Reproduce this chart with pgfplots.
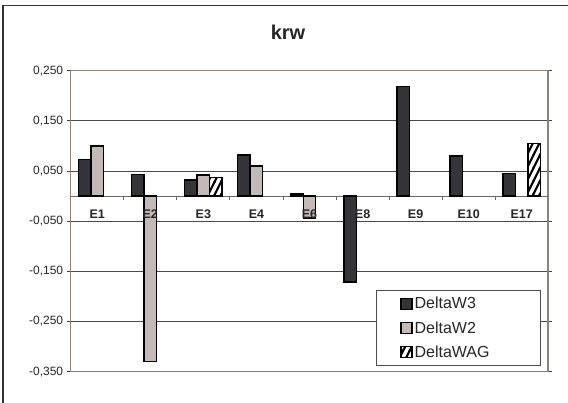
\documentclass[border=0pt]{standalone}
\usepackage{pgfplots}
\pgfplotsset{compat=1.18}
\usepackage{fontspec}
\setmainfont{Liberation Sans}
\usetikzlibrary{patterns}

\definecolor{darkbar}{HTML}{353438}
\definecolor{lightbar}{HTML}{C3B9B6}
\definecolor{framebrown}{HTML}{8B807C}
\definecolor{gridgray}{HTML}{4A4A4A}

% steep diagonal stripes for the WAG bars
\pgfdeclarepatternformonly{wagstripes}{\pgfqpoint{-1pt}{-1pt}}{\pgfqpoint{7.5pt}{14pt}}{\pgfqpoint{6.5pt}{13pt}}{
  \pgfsetlinewidth{2.2pt}
  \pgfpathmoveto{\pgfqpoint{-1pt}{-2pt}}
  \pgfpathlineto{\pgfqpoint{7.5pt}{15pt}}
  \pgfusepath{stroke}
}

\begin{document}
\begin{tikzpicture}[x=1pt,y=1pt]
\path[use as bounding box] (0,0) rectangle (568,403);
% outer chart frame
\draw[line width=1.2pt, black!80] (3,0) -- (3,397.5) -- (568,397.5);
\node[font=\fontsize{20}{24}\selectfont\bfseries, text=black!85] at (288,371) {krw};
\begin{axis}[
  at={(70.7pt,31.3pt)}, anchor=south west,
  width=477.6pt, height=301pt, scale only axis,
  xmin=-0.5, xmax=8.5, ymin=-0.35, ymax=0.25,
  ytick={-0.35,-0.25,-0.15,-0.05,0.05,0.15,0.25},
  xtick=\empty,
  ymajorgrids, grid style={gridgray, line width=0.8pt},
  axis line style={framebrown, line width=1.6pt},
  ytick style={black!75, line width=0.8pt},
  tick align=outside, major tick length=4pt,
  yticklabel style={font=\fontsize{12}{14}\selectfont, text=black!85,
    /pgf/number format/.cd, fixed, fixed zerofill, precision=3, use comma,
    assume math mode=true},
  legend style={at={(axis description cs:1,0)}, anchor=south east,
    xshift=-7.3pt, yshift=5.7pt, draw=black!70, line width=0.8pt,
    font=\fontsize{16}{18}\selectfont, text=black!85,
    inner xsep=24pt, inner ysep=5pt, row sep=7pt,
    nodes={text width=100pt, align=left}},
  legend cell align=left,
  legend image code/.code={\draw[#1, line width=1.4pt] (0pt,-5.5pt) rectangle (11pt,5.5pt);},
]
% zero line with category separators
\draw[black!60, line width=0.9pt] (axis cs:-0.5,0) -- (axis cs:8.5,0);
\pgfplotsinvokeforeach{0.5,1.5,2.5,3.5,4.5,5.5,6.5,7.5}{
  \draw[black!60, line width=0.8pt] (axis cs:#1,0) -- ++(0pt,-4pt);
}
\addplot[ybar, bar width=0.235, bar shift=-0.235, fill=darkbar, draw=black, line width=1.4pt]
  coordinates {(0,0.073) (1,0.043) (2,0.032) (3,0.082) (4,0.004) (5,-0.171) (6,0.219) (7,0.080) (8,0.045)};
\addlegendentry{DeltaW3}
\addplot[ybar, bar width=0.235, bar shift=0, fill=lightbar, draw=black, line width=1.4pt]
  coordinates {(0,0.100) (1,-0.330) (2,0.042) (3,0.060) (4,-0.044)};
\addlegendentry{DeltaW2}
\addplot[ybar, bar width=0.235, bar shift=0.235, fill=white, draw=black, line width=1.4pt,
  postaction={pattern=wagstripes, pattern color=black}]
  coordinates {(2,0.037) (8,0.105)};
\addlegendentry{DeltaWAG}
% category labels, drawn over the bars
\node[font=\fontsize{12.5}{14}\selectfont\bfseries, text=black!85] at (axis cs:0,0) [yshift=-18.3pt] {E1};
\node[font=\fontsize{12.5}{14}\selectfont\bfseries, text=black!85] at (axis cs:1,0) [yshift=-18.3pt] {E2};
\node[font=\fontsize{12.5}{14}\selectfont\bfseries, text=black!85] at (axis cs:2,0) [yshift=-18.3pt] {E3};
\node[font=\fontsize{12.5}{14}\selectfont\bfseries, text=black!85] at (axis cs:3,0) [yshift=-18.3pt] {E4};
\node[font=\fontsize{12.5}{14}\selectfont\bfseries, text=black!85] at (axis cs:4,0) [yshift=-18.3pt] {E6};
\node[font=\fontsize{12.5}{14}\selectfont\bfseries, text=black!85] at (axis cs:5,0) [yshift=-18.3pt] {E8};
\node[font=\fontsize{12.5}{14}\selectfont\bfseries, text=black!85] at (axis cs:6,0) [yshift=-18.3pt] {E9};
\node[font=\fontsize{12.5}{14}\selectfont\bfseries, text=black!85] at (axis cs:7,0) [yshift=-18.3pt] {E10};
\node[font=\fontsize{12.5}{14}\selectfont\bfseries, text=black!85] at (axis cs:8,0) [yshift=-18.3pt] {E17};
\end{axis}
\end{tikzpicture}
\end{document}
